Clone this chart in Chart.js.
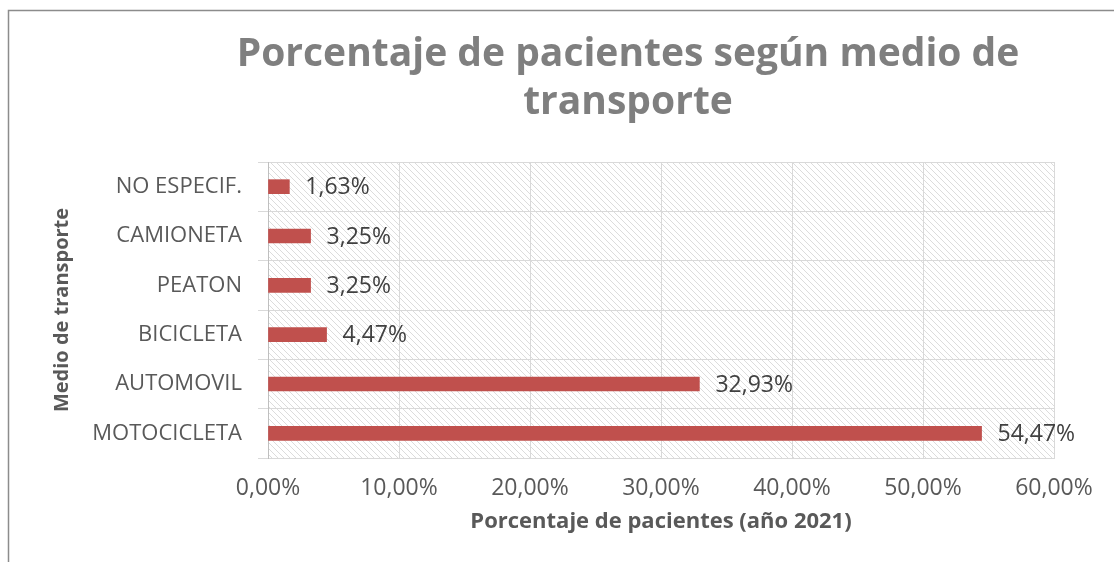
<!DOCTYPE html>
<html>
<head>
<meta charset="utf-8">
<script src="https://cdn.jsdelivr.net/npm/chart.js@4.4.0/dist/chart.umd.min.js"></script>
<style>
  html, body { margin: 0; padding: 0; background: #ffffff; }
  #wrap { position: relative; width: 1114px; height: 562px; }
</style>
</head>
<body>
<div id="wrap"><canvas id="c" width="1114" height="562"></canvas></div>
<script>
const categories = ["NO ESPECIF.", "CAMIONETA", "PEATON", "BICICLETA", "AUTOMOVIL", "MOTOCICLETA"];
const values = [1.63, 3.25, 3.25, 4.47, 32.93, 54.47];
const xTicks = [0, 10, 20, 30, 40, 50, 60];
const titleLines = ["Porcentaje de pacientes según medio de", "transporte"];
const xTitle = "Porcentaje de pacientes (año 2021)";
const yTitle = "Medio de transporte";

const fmt = v => v.toFixed(2).replace('.', ',') + '%';
const FONT = "'Open Sans', 'Liberation Sans', sans-serif";

function makeHatch() {
  const p = document.createElement('canvas');
  p.width = 6; p.height = 6;
  const g = p.getContext('2d');
  g.strokeStyle = '#dcdcdc';
  g.lineWidth = 1;
  g.beginPath();
  g.moveTo(-1, -1); g.lineTo(7, 7);
  g.moveTo(-1, 5); g.lineTo(1, 7);
  g.moveTo(5, -1); g.lineTo(7, 1);
  g.stroke();
  return p;
}

const framePlugin = {
  id: 'frame',
  beforeDraw(chart) {
    const ctx = chart.ctx;
    const a = chart.chartArea;
    ctx.save();
    ctx.fillStyle = ctx.createPattern(makeHatch(), 'repeat');
    ctx.fillRect(a.left, a.top, a.right - a.left, a.bottom - a.top);
    ctx.strokeStyle = '#8c8c8c';
    ctx.lineWidth = 1.5;
    ctx.beginPath();
    ctx.moveTo(8.5, 562); ctx.lineTo(8.5, 10.5); ctx.lineTo(1114, 10.5);
    ctx.stroke();
    ctx.restore();
  },
  afterDraw(chart) {
    const ctx = chart.ctx;
    ctx.save();
    ctx.fillStyle = '#7f7f7f';
    ctx.font = "bold 39px " + FONT;
    ctx.textAlign = 'center';
    ctx.textBaseline = 'middle';
    ctx.fillText(titleLines[0], 628, 55);
    ctx.fillText(titleLines[1], 628, 103);
    ctx.restore();
  },
  afterDatasetsDraw(chart) {
    const ctx = chart.ctx;
    const meta = chart.getDatasetMeta(0);
    ctx.save();
    ctx.fillStyle = '#404040';
    ctx.font = "23px " + FONT;
    ctx.textAlign = 'left';
    ctx.textBaseline = 'middle';
    meta.data.forEach((bar, i) => {
      ctx.fillText(fmt(values[i]), bar.x + 16, bar.y + 1);
    });
    ctx.restore();
  }
};

new Chart(document.getElementById('c'), {
  type: 'bar',
  data: {
    labels: categories,
    datasets: [{
      data: values,
      backgroundColor: '#c0504d',
      borderWidth: 0,
      barThickness: 14
    }]
  },
  options: {
    indexAxis: 'y',
    responsive: false,
    animation: false,
    devicePixelRatio: 1,
    layout: { padding: { top: 162, left: 40, right: 60, bottom: 20 } },
    plugins: {
      legend: { display: false },
      tooltip: { enabled: false },
      title: { display: false }
    },
    scales: {
      x: {
        min: 0, max: 60,
        afterBuildTicks(scale) { scale.ticks = xTicks.map(v => ({ value: v })); },
        afterFit(scale) { scale.height = 84; },
        ticks: {
          callback: v => fmt(v),
          color: '#595959',
          font: { family: FONT, size: 23 },
          padding: 17,
          maxRotation: 0
        },
        grid: { color: '#d9d9d9', drawTicks: false, lineWidth: 1 },
        border: { display: true, color: '#d9d9d9' },
        title: {
          display: true,
          text: xTitle,
          color: '#595959',
          font: { family: FONT, size: 22, weight: 'bold' },
          padding: { top: 0, bottom: 7 }
        }
      },
      y: {
        afterFit(scale) { scale.width = 228; },
        ticks: {
          color: '#595959',
          font: { family: FONT, size: 22 },
          padding: 16
        },
        grid: { color: '#d9d9d9', tickLength: 10, offset: true, lineWidth: 1 },
        border: { display: true, color: '#bfbfbf' },
        title: {
          display: true,
          text: yTitle,
          color: '#595959',
          font: { family: FONT, size: 20, weight: 'bold' },
          padding: { top: 10, bottom: 0 }
        }
      }
    }
  },
  plugins: [framePlugin]
});
</script>
</body>
</html>
